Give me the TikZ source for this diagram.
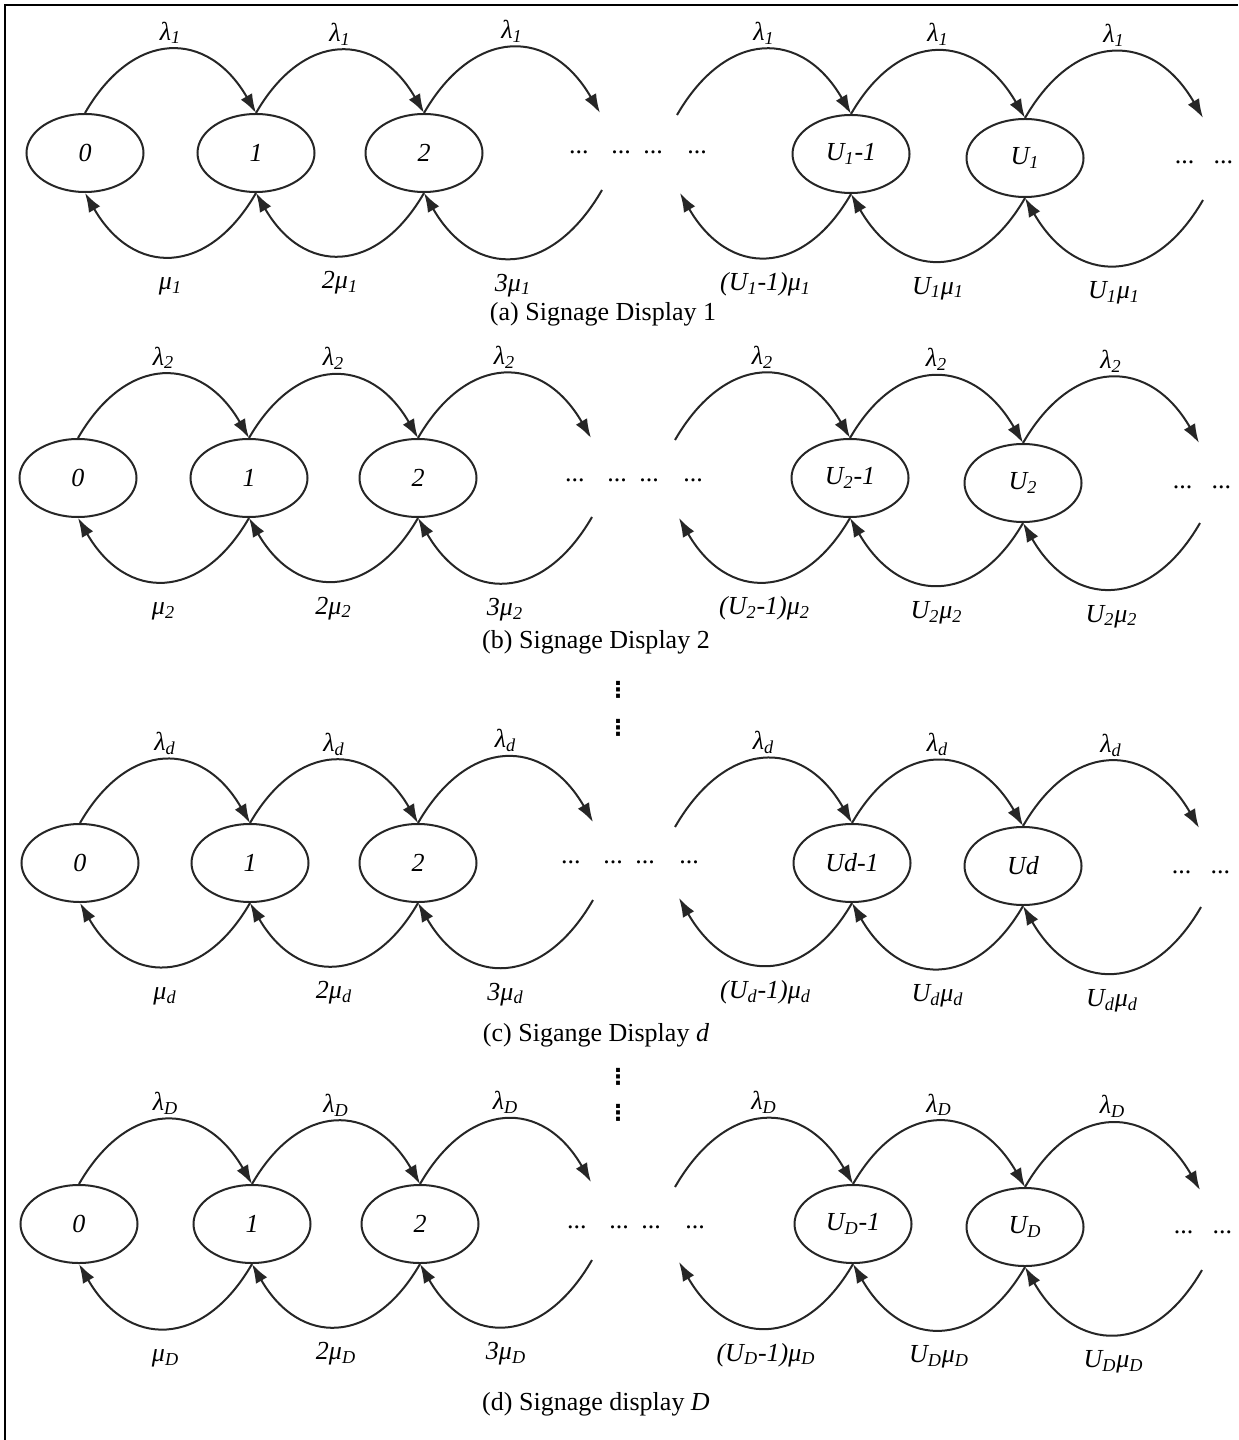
\documentclass[tikz,border=0pt]{standalone}
\usepackage{fontspec}
\setmainfont{Liberation Serif}
\newfontfamily\symfont{DejaVu Sans}
\usetikzlibrary{shapes.geometric, arrows.meta}

\tikzset{
    state/.style={ellipse, draw=black!85, line width=0.4mm, minimum width=23.4mm, minimum height=15.6mm, inner sep=0pt, font=\itshape},
    flow/.style={draw=black!85, line width=0.4mm, -{Latex[length=3.8mm, width=2.6mm]}},
    over/.style={out=60, in=120, looseness=1.45},
    under/.style={out=-120, in=-60, looseness=1.45},
    lam/.style={anchor=base, yshift=2mm, font=\itshape},
    mu/.style={anchor=base, yshift=-6.8mm, font=\itshape},
    gap/.style={inner sep=0pt},
    vdot/.style={inner sep=0pt, font=\symfont\bfseries\fontsize{12.5}{13}\selectfont}
}

\begin{document}
\fontsize{14.8}{17}\selectfont
\begin{tikzpicture}[x=0.2mm, y=0.2mm]
    \useasboundingbox (0,0) rectangle (1238,-1440);
    \draw[line width=0.5mm] (5,-1440) -- (5,-5) -- (1238,-5);

    % (a)
    \node[state] (a0) at (85,-153) {0};
    \node[state] (a1) at (256,-153) {1};
    \node[state] (a2) at (424,-153) {2};
    \node[state] (aU1) at (851,-154) {U\textsubscript{1}-1};
    \node[state] (aU) at (1025,-158) {U\textsubscript{1}};
    \coordinate (a-tl) at (600,-113);
    \coordinate (a-bl) at (602,-190);
    \coordinate (a-tr) at (677,-115);
    \coordinate (a-br) at (680,-193);
    \coordinate (a-rt) at (1203,-118);
    \coordinate (a-rb) at (1203,-200);
    \node[gap] (a-dl) at (638,-152) {...\hspace{13pt}...\hspace{7pt}...\hspace{14pt}...};
    \node[gap] (a-dr) at (1204,-162) {...\hspace{11pt}...};

    \draw[flow] (a0.north) to[over] node[lam] {λ\textsubscript{1}} (a1.north);
    \draw[flow] (a1.north) to[over] node[lam] {λ\textsubscript{1}} (a2.north);
    \draw[flow] (a2.north) to[over] node[lam] {λ\textsubscript{1}} (a-tl);
    \draw[flow] (a-tr) to[over] node[lam] {λ\textsubscript{1}} (aU1.north);
    \draw[flow] (aU1.north) to[over] node[lam] {λ\textsubscript{1}} (aU.north);
    \draw[flow] (aU.north) to[over] node[lam] {λ\textsubscript{1}} (a-rt);
    \draw[flow] (a1.south) to[under] node[mu] {μ\textsubscript{1}} (a0.south);
    \draw[flow] (a2.south) to[under] node[mu] {2μ\textsubscript{1}} (a1.south);
    \draw[flow] (a-bl) to[under] node[mu] {3μ\textsubscript{1}} (a2.south);
    \draw[flow] (aU1.south) to[under] node[mu] {(U\textsubscript{1}-1)μ\textsubscript{1}} (a-br);
    \draw[flow] (aU.south) to[under] node[mu] {U\textsubscript{1}μ\textsubscript{1}} (aU1.south);
    \draw[flow] (a-rb) to[under] node[mu] {U\textsubscript{1}μ\textsubscript{1}} (aU.south);
    \node (a-cap) at (603,-314) {(a) Signage Display 1};

    % (b)
    \node[state] (b0) at (78,-478) {0};
    \node[state] (b1) at (249,-478) {1};
    \node[state] (b2) at (418,-478) {2};
    \node[state] (bU1) at (850,-478) {U\textsubscript{2}-1};
    \node[state] (bU) at (1023,-483) {U\textsubscript{2}};
    \coordinate (b-tl) at (591,-438);
    \coordinate (b-bl) at (592,-517);
    \coordinate (b-tr) at (675,-440);
    \coordinate (b-br) at (679,-518);
    \coordinate (b-rt) at (1199,-443);
    \coordinate (b-rb) at (1200,-523);
    \node[gap] (b-dl) at (634,-480) {...\hspace{13pt}...\hspace{7pt}...\hspace{14pt}...};
    \node[gap] (b-dr) at (1202,-487) {...\hspace{11pt}...};

    \draw[flow] (b0.north) to[over] node[lam] {λ\textsubscript{2}} (b1.north);
    \draw[flow] (b1.north) to[over] node[lam] {λ\textsubscript{2}} (b2.north);
    \draw[flow] (b2.north) to[over] node[lam] {λ\textsubscript{2}} (b-tl);
    \draw[flow] (b-tr) to[over] node[lam] {λ\textsubscript{2}} (bU1.north);
    \draw[flow] (bU1.north) to[over] node[lam] {λ\textsubscript{2}} (bU.north);
    \draw[flow] (bU.north) to[over] node[lam] {λ\textsubscript{2}} (b-rt);
    \draw[flow] (b1.south) to[under] node[mu] {μ\textsubscript{2}} (b0.south);
    \draw[flow] (b2.south) to[under] node[mu] {2μ\textsubscript{2}} (b1.south);
    \draw[flow] (b-bl) to[under] node[mu] {3μ\textsubscript{2}} (b2.south);
    \draw[flow] (bU1.south) to[under] node[mu] {(U\textsubscript{2}-1)μ\textsubscript{2}} (b-br);
    \draw[flow] (bU.south) to[under] node[mu] {U\textsubscript{2}μ\textsubscript{2}} (bU1.south);
    \draw[flow] (b-rb) to[under] node[mu] {U\textsubscript{2}μ\textsubscript{2}} (bU.south);
    \node (b-cap) at (596,-642) {(b) Signage Display 2};

    \node[vdot] (v1) at (618,-690) {⋮};
    \node[vdot] (v2) at (618,-728) {⋮};

    % (c)
    \node[state] (c0) at (80,-863) {0};
    \node[state] (c1) at (250,-863) {1};
    \node[state] (c2) at (418,-863) {2};
    \node[state] (cU1) at (852,-863) {Ud-1};
    \node[state] (cU) at (1023,-866) {Ud};
    \coordinate (c-tl) at (593,-822);
    \coordinate (c-bl) at (593,-900);
    \coordinate (c-tr) at (675,-827);
    \coordinate (c-br) at (679,-898);
    \coordinate (c-rt) at (1199,-828);
    \coordinate (c-rb) at (1201,-907);
    \node[gap] (c-dl) at (630,-862) {...\hspace{13pt}...\hspace{7pt}...\hspace{14pt}...};
    \node[gap] (c-dr) at (1201,-872) {...\hspace{11pt}...};

    \draw[flow] (c0.north) to[over] node[lam] {λ\textsubscript{d}} (c1.north);
    \draw[flow] (c1.north) to[over] node[lam] {λ\textsubscript{d}} (c2.north);
    \draw[flow] (c2.north) to[over] node[lam] {λ\textsubscript{d}} (c-tl);
    \draw[flow] (c-tr) to[over] node[lam] {λ\textsubscript{d}} (cU1.north);
    \draw[flow] (cU1.north) to[over] node[lam] {λ\textsubscript{d}} (cU.north);
    \draw[flow] (cU.north) to[over] node[lam] {λ\textsubscript{d}} (c-rt);
    \draw[flow] (c1.south) to[under] node[mu] {μ\textsubscript{d}} (c0.south);
    \draw[flow] (c2.south) to[under] node[mu] {2μ\textsubscript{d}} (c1.south);
    \draw[flow] (c-bl) to[under] node[mu] {3μ\textsubscript{d}} (c2.south);
    \draw[flow] (cU1.south) to[under] node[mu] {(U\textsubscript{d}-1)μ\textsubscript{d}} (c-br);
    \draw[flow] (cU.south) to[under] node[mu] {U\textsubscript{d}μ\textsubscript{d}} (cU1.south);
    \draw[flow] (c-rb) to[under] node[mu] {U\textsubscript{d}μ\textsubscript{d}} (cU.south);
    \node (c-cap) at (596,-1035) {(c) Sigange Display \textit{d}};

    \node[vdot] (v3) at (618,-1077) {⋮};
    \node[vdot] (v4) at (618,-1113) {⋮};

    % (d)
    \node[state] (d0) at (79,-1224) {0};
    \node[state] (d1) at (252,-1224) {1};
    \node[state] (d2) at (420,-1224) {2};
    \node[state] (dU1) at (853,-1224) {U\textsubscript{D}-1};
    \node[state] (dU) at (1025,-1227) {U\textsubscript{D}};
    \coordinate (d-tl) at (591,-1182);
    \coordinate (d-bl) at (592,-1260);
    \coordinate (d-tr) at (675,-1187);
    \coordinate (d-br) at (679,-1262);
    \coordinate (d-rt) at (1200,-1190);
    \coordinate (d-rb) at (1202,-1270);
    \node[gap] (d-dl) at (636,-1227) {...\hspace{13pt}...\hspace{7pt}...\hspace{14pt}...};
    \node[gap] (d-dr) at (1203,-1232) {...\hspace{11pt}...};

    \draw[flow] (d0.north) to[over] node[lam] {λ\textsubscript{D}} (d1.north);
    \draw[flow] (d1.north) to[over] node[lam] {λ\textsubscript{D}} (d2.north);
    \draw[flow] (d2.north) to[over] node[lam] {λ\textsubscript{D}} (d-tl);
    \draw[flow] (d-tr) to[over] node[lam] {λ\textsubscript{D}} (dU1.north);
    \draw[flow] (dU1.north) to[over] node[lam] {λ\textsubscript{D}} (dU.north);
    \draw[flow] (dU.north) to[over] node[lam] {λ\textsubscript{D}} (d-rt);
    \draw[flow] (d1.south) to[under] node[mu] {μ\textsubscript{D}} (d0.south);
    \draw[flow] (d2.south) to[under] node[mu] {2μ\textsubscript{D}} (d1.south);
    \draw[flow] (d-bl) to[under] node[mu] {3μ\textsubscript{D}} (d2.south);
    \draw[flow] (dU1.south) to[under] node[mu] {(U\textsubscript{D}-1)μ\textsubscript{D}} (d-br);
    \draw[flow] (dU.south) to[under] node[mu] {U\textsubscript{D}μ\textsubscript{D}} (dU1.south);
    \draw[flow] (d-rb) to[under] node[mu] {U\textsubscript{D}μ\textsubscript{D}} (dU.south);
    \node (d-cap) at (596,-1404) {(d) Signage display \textit{D}};
\end{tikzpicture}
\end{document}
